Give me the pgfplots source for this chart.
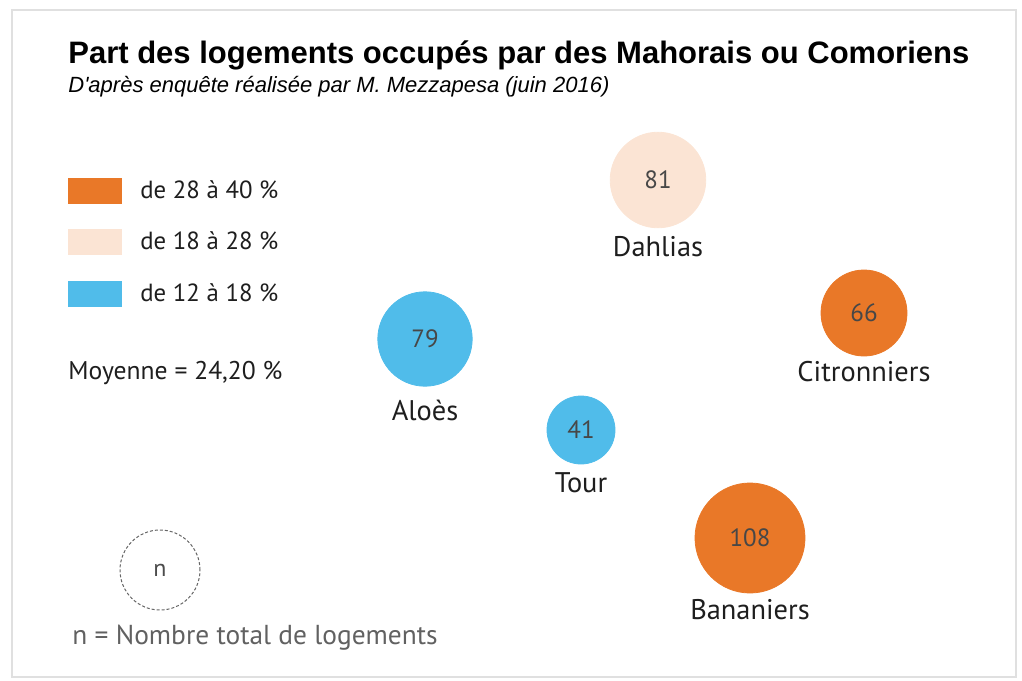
\documentclass[border=0pt]{standalone}
\usepackage{pgfplots}
\pgfplotsset{compat=1.18}
\usepackage{fontspec}
\setmainfont{PT Sans}
\newfontfamily\titlefont{Liberation Sans}
\definecolor{corange}{RGB}{233,120,40}
\definecolor{cbeige}{RGB}{251,228,212}
\definecolor{cblue}{RGB}{80,188,234}
\definecolor{ctext}{RGB}{30,30,30}

\pgfplotsset{
  bubble/.style={only marks, mark=*, color=#1, mark options={solid, draw=#1, fill=#1},
    point meta=explicit symbolic, nodes near coords,
    nodes near coords style={anchor=center, font=\fontsize{12.5}{14}\selectfont, text=black!72}},
  placelabel/.style={only marks, mark=none, point meta=explicit symbolic, nodes near coords,
    nodes near coords style={anchor=center, font=\fontsize{14.2}{16}\selectfont, text=ctext}},
}

\begin{document}
\begin{tikzpicture}
\begin{axis}[
  width=511pt, height=340pt, scale only axis,
  xmin=0, xmax=1022, ymin=0, ymax=680, y dir=reverse,
  axis lines=none, clip=false,
]
\path (axis cs:0,0) -- (axis cs:1022,680);
\draw[black!12, line width=0.8pt] (axis cs:12,10) rectangle (axis cs:1016,677);

% bubbles: area proportional to n
\addplot[bubble=corange, mark size=21.5pt] coordinates {(864,313) [66]};
\addplot[bubble=corange, mark size=27.5pt] coordinates {(750,538) [108]};
\addplot[bubble=cbeige, mark size=23.9pt] coordinates {(658,180) [81]};
\addplot[bubble=cblue, mark size=23.6pt] coordinates {(425,339) [79]};
\addplot[bubble=cblue, mark size=17pt] coordinates {(581,430) [41]};

\addplot[placelabel] coordinates {
  (658,247) [Dahlias]
  (864,372) [Citronniers]
  (425,410) [Aloès]
  (581,483) [Tour]
  (750,610) [Bananiers]
};

% title
\node[anchor=base west, inner sep=0pt, font=\titlefont\bfseries\fontsize{15.5}{18}\selectfont] at (axis cs:68,63)
  {Part des logements occupés par des Mahorais ou Comoriens};
\node[anchor=base west, inner sep=0pt, font=\titlefont\itshape\fontsize{11}{13}\selectfont] at (axis cs:68,92)
  {D'après enquête réalisée par M. Mezzapesa (juin 2016)};

% legend
\fill[corange] (axis cs:68,178) rectangle (axis cs:122,204);
\fill[cbeige] (axis cs:68,229) rectangle (axis cs:122,255);
\fill[cblue] (axis cs:68,281) rectangle (axis cs:122,307);
\node[anchor=west, inner sep=0pt, font=\fontsize{12.4}{14}\selectfont, text=ctext] at (axis cs:140,190) {de 28 à 40 \%};
\node[anchor=west, inner sep=0pt, font=\fontsize{12.4}{14}\selectfont, text=ctext] at (axis cs:140,241) {de 18 à 28 \%};
\node[anchor=west, inner sep=0pt, font=\fontsize{12.4}{14}\selectfont, text=ctext] at (axis cs:140,293) {de 12 à 18 \%};
\node[anchor=west, inner sep=0pt, font=\fontsize{12.8}{14}\selectfont, text=ctext] at (axis cs:68,373) {Moyenne = 24,20 \%};

\draw[black!60, line width=0.5pt, dash pattern=on 1.5pt off 1pt] (axis cs:160,570) circle[radius=20pt];
\node[anchor=center, font=\fontsize{12}{13}\selectfont, text=black!70] at (axis cs:160,570) {n};
\node[anchor=west, inner sep=0pt, font=\fontsize{13.7}{15}\selectfont, text=black!62] at (axis cs:72,638) {n = Nombre total de logements};
\end{axis}
\end{tikzpicture}
\end{document}
